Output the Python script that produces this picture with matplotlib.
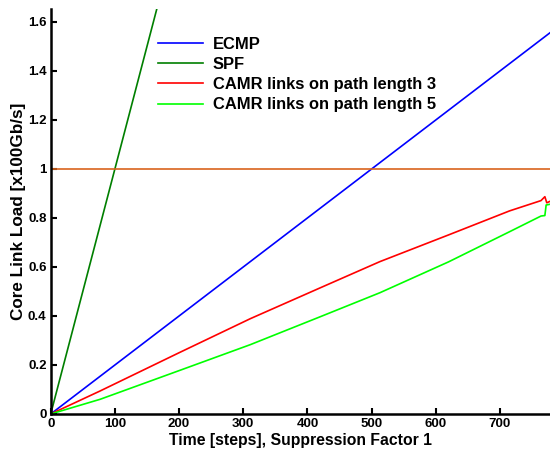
import numpy as np
import matplotlib
matplotlib.use("Agg")
import matplotlib.pyplot as plt
from matplotlib.ticker import FuncFormatter

plt.rcParams['font.family'] = ['Liberation Sans', 'DejaVu Sans']
plt.rcParams['font.weight'] = 'bold'

# data
ecmp_x = [0, 778]
ecmp_y = [0, 1.556]

spf_x = [0, 166]
spf_y = [0, 1.66]

camr3_x = [0, 77, 200, 311, 420, 513, 620, 715, 764, 770, 773, 778]
camr3_y = [0, 0.094, 0.25, 0.389, 0.515, 0.622, 0.731, 0.829, 0.871, 0.887, 0.862, 0.868]

camr5_x = [0, 77, 200, 311, 420, 513, 620, 715, 764, 770, 772, 778]
camr5_y = [0, 0.060, 0.177, 0.283, 0.397, 0.495, 0.621, 0.744, 0.808, 0.81, 0.853, 0.856]

capacity = 1.0

xticks = [0, 100, 200, 300, 400, 500, 600, 700]
yticks = [0, 0.2, 0.4, 0.6, 0.8, 1.0, 1.2, 1.4, 1.6]

fig = plt.figure(figsize=(5.5, 4.54), dpi=100)
ax = fig.add_axes([50.7 / 550, 1 - 414 / 454, 1 - 50.7 / 550, (414 - 9) / 454])

lw = 1.2
ax.plot(ecmp_x, ecmp_y, color='#0000ff', lw=lw, label='ECMP')
ax.plot(spf_x, spf_y, color='#007f00', lw=lw, label='SPF')
ax.plot(camr3_x, camr3_y, color='#ff0000', lw=lw, label='CAMR links on path length 3')
ax.plot(camr5_x, camr5_y, color='#00ff00', lw=lw, label='CAMR links on path length 5')
ax.axhline(capacity, color='#d9641e', lw=lw)

ax.set_xlim(0, 778)
ax.set_ylim(0, 1.653)
ax.set_xticks(xticks)
ax.set_yticks(yticks)
ax.yaxis.set_major_formatter(FuncFormatter(lambda v, p: '%g' % v))
ax.tick_params(direction='in', length=4, width=1.5, labelsize=9.5, pad=3)

for s in ['top', 'right']:
    ax.spines[s].set_visible(False)
for s in ['left', 'bottom']:
    ax.spines[s].set_linewidth(1.8)

ax.set_xlabel('Time [steps], Suppression Factor 1', fontsize=11.3, fontweight='bold', labelpad=2)
ax.set_ylabel('Core Link Load [x100Gb/s]', fontsize=12.3, fontweight='bold', labelpad=2)
ax.yaxis.set_label_coords(-25 / 500, 0.5)

ax.legend(loc='upper left', bbox_to_anchor=(158 / 550, 1 - 37 / 454),
          bbox_transform=fig.transFigure, frameon=False,
          prop={'weight': 'bold', 'size': 11.9},
          handlelength=2.7, handletextpad=0.6, labelspacing=0.31,
          borderpad=0, borderaxespad=0)

fig.savefig('out.png', dpi=100)
